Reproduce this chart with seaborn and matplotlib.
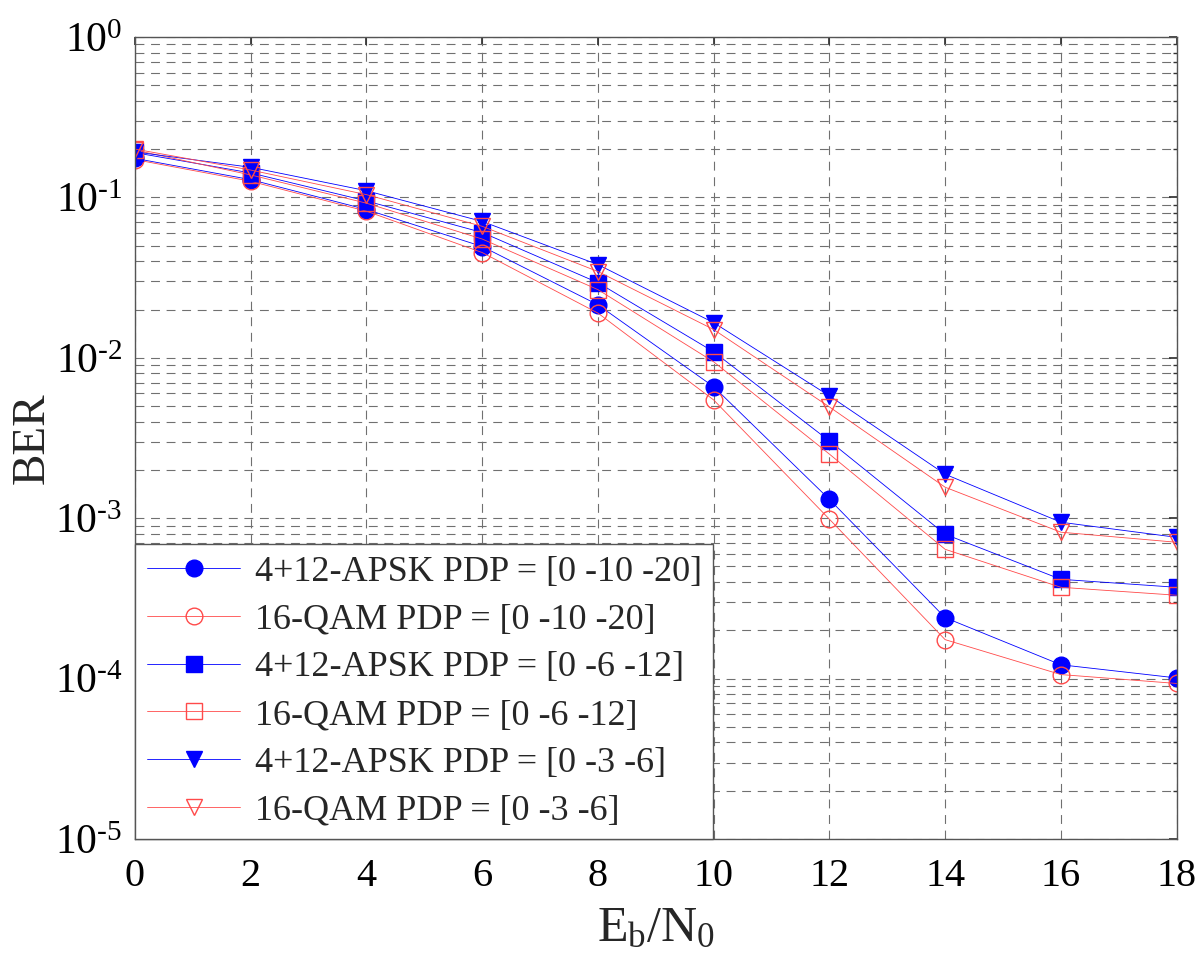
import matplotlib
matplotlib.use("Agg")
import matplotlib.pyplot as plt
import numpy as np
import pandas as pd
import seaborn as sns
from matplotlib.ticker import LogLocator, FixedLocator, NullFormatter

sns.set_theme(style="white")
plt.rcParams["font.family"] = ["Liberation Serif", "DejaVu Serif"]
plt.rcParams["mathtext.fontset"] = "custom"
plt.rcParams["mathtext.rm"] = "Liberation Serif"
plt.rcParams["mathtext.it"] = "Liberation Serif:italic"
plt.rcParams["axes.unicode_minus"] = False

# Eb/N0 (dB)
ebn0 = [0, 2, 4, 6, 8, 10, 12, 14, 16, 18]

apsk_20 = [0.175, 0.129, 0.084, 0.0494, 0.0214, 0.0066, 0.00131, 0.00024, 0.000122, 0.000101]
qam_20 = [0.172, 0.126, 0.082, 0.0453, 0.019, 0.00546, 0.000986, 0.000175, 0.000106, 0.0000933]
apsk_12 = [0.19, 0.142, 0.095, 0.0604, 0.0294, 0.0109, 0.00303, 0.000794, 0.000416, 0.000371]
qam_12 = [0.197, 0.138, 0.092, 0.055, 0.0266, 0.00944, 0.00251, 0.00064, 0.000371, 0.000331]
apsk_6 = [0.192, 0.154, 0.110, 0.0708, 0.0381, 0.01655, 0.00579, 0.00188, 0.000944, 0.00076]
qam_6 = [0.2, 0.148, 0.104, 0.066, 0.0345, 0.015, 0.00494, 0.00156, 0.000818, 0.000708]

labels = [
    "4+12-APSK PDP = [0 -10 -20]",
    "16-QAM PDP = [0 -10 -20]",
    "4+12-APSK PDP = [0 -6 -12]",
    "16-QAM PDP = [0 -6 -12]",
    "4+12-APSK PDP = [0 -3 -6]",
    "16-QAM PDP = [0 -3 -6]",
]
series = [apsk_20, qam_20, apsk_12, qam_12, apsk_6, qam_6]

y_ticks = [1e-5, 1e-4, 1e-3, 1e-2, 1e-1, 1]
y_ticklabels = [r"$10^{\text{-5}}$", r"$10^{\text{-4}}$", r"$10^{\text{-3}}$",
                r"$10^{\text{-2}}$", r"$10^{\text{-1}}$", r"$10^{0}$"]

BLUE = "#0000ff"
RED = "#ff4a4a"
styles = [
    dict(color=BLUE, marker="o", markersize=12, mfc=BLUE, mec=BLUE),
    dict(color=RED, marker="o", markersize=12, mfc="none", mec=RED),
    dict(color=BLUE, marker="s", markersize=11, mfc=BLUE, mec=BLUE),
    dict(color=RED, marker="s", markersize=11, mfc="none", mec=RED),
    dict(color=BLUE, marker="v", markersize=11, mfc=BLUE, mec=BLUE),
    dict(color=RED, marker="v", markersize=11, mfc="none", mec=RED),
]

fig = plt.figure(figsize=(12, 9.6), dpi=100)
ax = fig.add_axes([0.1125, 0.126, 0.868, 0.8355])

for vals, lab, st in zip(series, labels, styles):
    sns.lineplot(x=ebn0, y=vals, ax=ax, label=lab, linewidth=0.6,
                 markeredgewidth=1.0, **st)

ax.set_yscale("log")
ax.set_xlim(0, 18)
ax.set_ylim(1e-5, 1)
ax.set_xticks(range(0, 19, 2))
ax.yaxis.set_major_locator(FixedLocator(y_ticks))
ax.set_yticklabels(y_ticklabels)
ax.yaxis.set_minor_locator(LogLocator(base=10, subs=np.arange(2, 10), numticks=20))
ax.yaxis.set_minor_formatter(NullFormatter())

grid_kw = dict(color="#707070", linestyle=(0, (8, 6)), linewidth=0.8)
ax.grid(True, which="major", axis="both", **grid_kw)
ax.grid(True, which="minor", axis="y", **grid_kw)

ax.tick_params(axis="both", which="both", direction="in", top=True, right=True,
               colors="#333333", labelcolor="black")
ax.tick_params(axis="both", which="major", length=6)
ax.tick_params(axis="x", which="major", pad=14, labelsize=29)
ax.tick_params(axis="y", which="major", pad=9, labelsize=30)
ax.tick_params(axis="y", which="minor", length=3)
for sp in ax.spines.values():
    sp.set_color("#555555")
    sp.set_linewidth(1.0)

ax.set_xlabel(r"$\mathrm{E_b/N_0}$", fontsize=36)
ax.xaxis.set_label_coords(0.5, -0.083)
ax.set_ylabel("BER", fontsize=34)
ax.yaxis.set_label_coords(-0.078, 0.5)

leg = ax.legend(loc="lower left", fontsize=26, frameon=True, fancybox=False,
                edgecolor="#555555", framealpha=1, borderaxespad=0,
                handlelength=2.6, handletextpad=0.4, labelspacing=0.4,
                borderpad=0.32)
leg.get_frame().set_linewidth(1.0)

fig.savefig("out.png", dpi=100)
